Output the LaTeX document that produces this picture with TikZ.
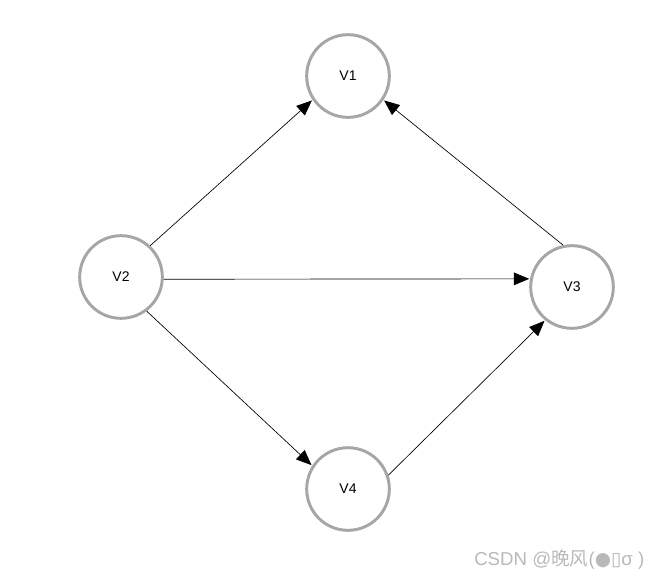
\documentclass[tikz,border=0pt]{standalone}
\usepackage{fontspec}
\setmainfont{Liberation Sans}
\newfontfamily\cjk{Noto Sans CJK SC}
\newfontfamily\symfont{DejaVu Sans}
\usetikzlibrary{arrows.meta}

\begin{document}
\begin{tikzpicture}[
    x=0.75pt,y=-0.75pt,
    >={Triangle[length=11.5pt,width=9.5pt]},
    vtx/.style={circle,draw=gray!70,line width=2.2pt,fill=white,
      minimum size=62pt,inner sep=0pt,font=\fontsize{10.5}{12}\selectfont},
    edge/.style={->,black,line width=0.5pt,shorten >=0.6pt},
    wmark/.style={text=gray!55,font=\fontsize{14}{16}\selectfont,anchor=base west,inner sep=0pt}]
  \useasboundingbox (0,0) rectangle (657,579);
  \node[vtx] (v1) at (348,76) {V1};
  \node[vtx] (v2) at (121,277) {V2};
  \node[vtx] (v3) at (572,287) {V3};
  \node[vtx] (v4) at (348,489) {V4};
  \draw[edge] (v2.47) -- (v1.214);
  \draw[edge] (v2.-3) -- (v3.169);
  \draw[edge] (v3.102) -- (v1.326);
  \draw[edge] (v2.-53) -- (v4.147);
  \draw[edge] (v4.19) -- (v3.231);
  % watermark in the corner
  \node[wmark] (wm) at (474,565) {CSDN @{\cjk 晚风}({\symfont ●▯}σ )};
\end{tikzpicture}
\end{document}
